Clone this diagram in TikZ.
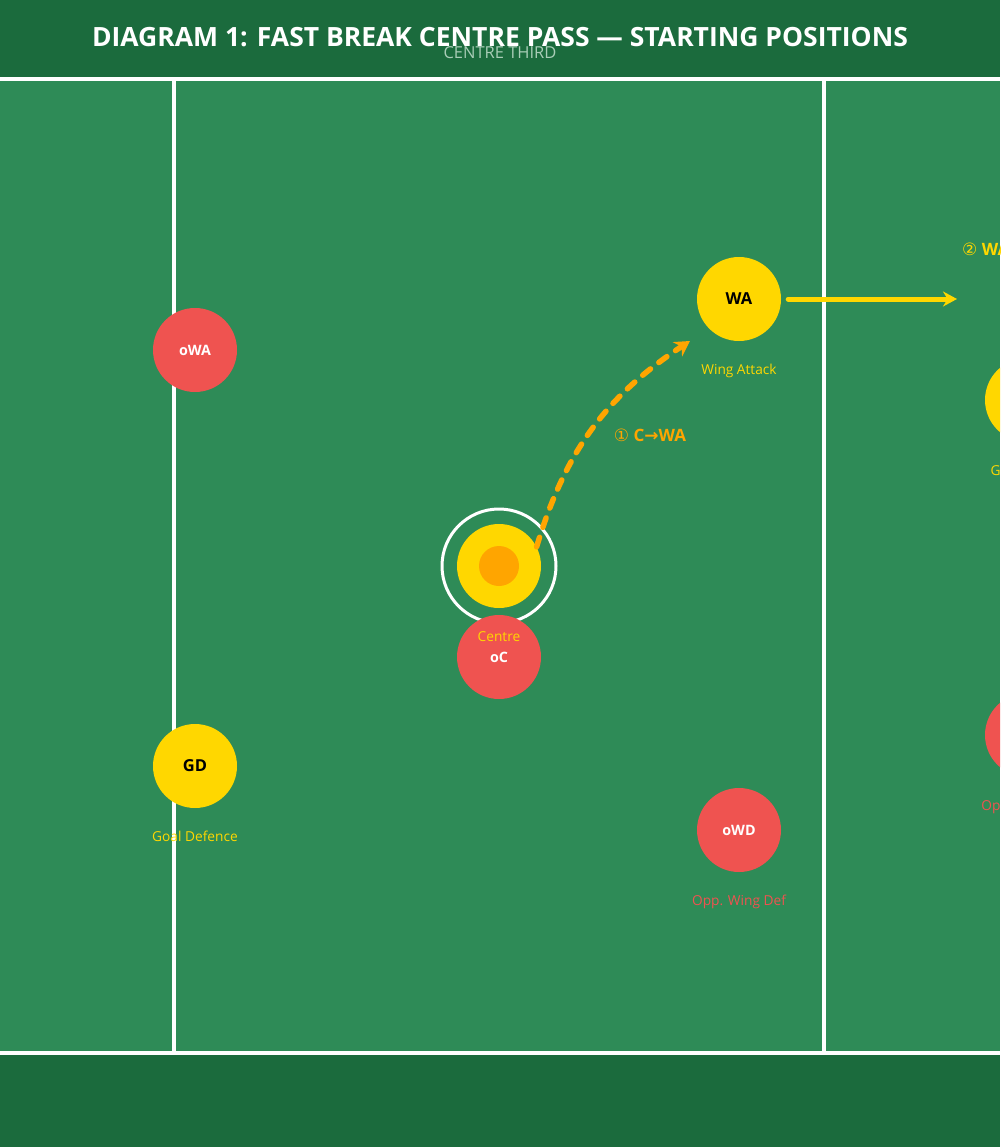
\documentclass[tikz,border=0pt]{standalone}
\usepackage{fontspec}
\setmainfont{Open Sans}
\newfontfamily\symfont{DejaVu Sans}
\usetikzlibrary{positioning, arrows.meta}
\definecolor{pitch}{HTML}{2E8B57}
\definecolor{band}{HTML}{1B6B3D}
\definecolor{ownteam}{HTML}{FFD700}
\definecolor{oppteam}{HTML}{EF5350}
\definecolor{passline}{HTML}{FFA500}
\definecolor{subtitle}{HTML}{A9CDB7}
\tikzset{
	player/.style n args={1}{
		circle, % Shape of the node
		minimum size=84pt, % Diameter of a player
		inner sep=0pt,
		% Apply fill color based on parameter
		fill=#1
	},
	own/.style={player=ownteam, text=black, font=\bfseries\fontsize{16.5}{18}\selectfont},
	opp/.style={player=oppteam, text=white, font=\bfseries\fontsize{14.3}{16}\selectfont},
	role/.style={inner sep=0pt, font=\fontsize{13.7}{15}\selectfont},
	courtline/.style={draw=white, line width=4pt},
	pass/.style={draw=passline, line width=5.5pt, dash pattern=on 10pt off 10.5pt, line cap=round, -{Stealth[length=15pt, width=17pt]}},
	run/.style={draw=ownteam, line width=5pt, line cap=round, -{Stealth[length=14pt, width=15pt]}},
	step label/.style={font=\bfseries\fontsize{17}{19}\selectfont, inner sep=0pt}
}

\begin{document}
\begin{tikzpicture}[x=1pt, y=-1pt]
	\useasboundingbox (0,0) rectangle (1000,1147);
	\clip (0,0) rectangle (1000,1147);

	% court
	\fill[band] (0,0) rectangle (1000,1147);
	\fill[pitch] (0,79) rectangle (1000,1053);
	\draw[courtline] (0,79) -- (1000,79);
	\draw[courtline] (0,1053) -- (1000,1053);
	\draw[courtline, line width=3.5pt] (174,79) -- (174,1053);
	\draw[courtline, line width=3.5pt] (824,79) -- (824,1053);

	\node[text=white, font=\bfseries\fontsize{26.5}{28}\selectfont] (title) at (500,37) {DIAGRAM 1: FAST BREAK CENTRE PASS — STARTING POSITIONS};
	\node[text=subtitle, font=\fontsize{16.5}{18}\selectfont] (third) at (500,53) {CENTRE THIRD};

	% attacking team
	\node[own] (wa) at (739,299) {WA};
	\node[role, text=ownteam, below=23pt of wa] (walbl) {Wing Attack};

	\node[circle, draw=white, line width=3pt, minimum size=114pt] (ring) at (499,566) {};
	\node[player=ownteam] (c) at (499,566) {};
	\node[circle, fill=passline, minimum size=40pt, inner sep=0pt] (ball) at (c) {};

	\node[own] (gd) at (195,766) {GD};
	\node[role, text=ownteam, below=23pt of gd] (gdlbl) {Goal Defence};

	\node[own] (ga) at (1027,400) {GA};
	\node[role, text=ownteam, below=23pt of ga] (galbl) {Goal Attack};

	% opposition
	\node[opp] (owa) at (195,350) {oWA};
	\node[opp] (oc) at (499,657) {oC};
	\node[role, text=ownteam, below=23pt of c] (clbl) {Centre};

	\node[opp] (owd) at (739,830) {oWD};
	\node[role, text=oppteam, below=23pt of owd] (owdlbl) {Opp. Wing Def};

	\node[opp] (ogd) at (1027,735) {oGD};
	\node[role, text=oppteam, below=23pt of ogd] (ogdlbl) {Opp. Goal Def};

	% passes and runs
	\coordinate (catch1) at (690,341);
	\draw[pass] (c.27) to[bend left=20] (catch1);
	\node[step label, text=passline] (step1) at (650,435) {{\symfont\mdseries ①} C{\symfont→}WA};

	\coordinate (drive) at (957,299);
	\draw[run, shorten <=7pt] (wa) -- (drive);
	\node[step label, text=ownteam, anchor=west] (step2) at (962,249) {{\symfont\mdseries ②} WA{\symfont→}GA};

	\coordinate (catch2) at (1004,340);
	\draw[pass] (1030,262) to[bend left=10] (catch2);
\end{tikzpicture}
\end{document}
